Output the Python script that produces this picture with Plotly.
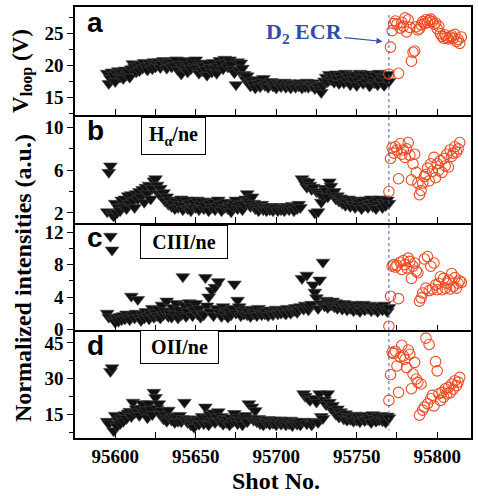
import plotly.graph_objects as go
from plotly.subplots import make_subplots

# ---------------- data ----------------
black_start = 95595
red_start = 95770

vloop_black = [
    18.8, 17.2, 18.0, 19.0, 18.5, 17.5, 18.8, 19.2, 18.2, 19.0,
    18.0, 19.3, 18.5, 19.0, 18.2, 19.5, 20.3, 19.8, 19.0, 20.0,
    19.2, 20.2, 19.6, 20.5, 19.8, 19.3, 20.4, 20.0, 19.5, 20.6,
    19.8, 20.3, 20.6, 19.7, 20.2, 20.8, 20.5, 19.6, 20.3, 20.7,
    19.8, 20.5, 20.0, 20.9, 19.3, 20.2, 18.7, 19.8, 20.8, 19.5,
    19.0, 20.2, 19.5, 20.6, 19.8, 20.9, 19.6, 18.8, 20.4, 19.2,
    20.0, 19.4, 18.5, 20.3, 19.7, 19.0, 20.5, 19.6, 18.8, 19.9,
    20.8, 20.3, 19.5, 21.0, 20.5, 19.8, 20.9, 20.2, 19.4, 18.9,
    17.0, 20.6, 19.2, 20.4, 19.6, 18.6, 17.8, 18.4, 17.3, 16.8,
    17.6, 17.1, 16.5, 17.8, 17.2, 16.7, 17.4, 18.0, 16.9, 17.3,
    16.6, 17.2, 17.5, 16.8, 17.1, 16.5, 17.3, 17.0, 16.7, 17.2,
    17.4, 16.6, 17.0, 17.3, 16.5, 16.9, 17.2, 16.6, 17.1, 16.8,
    17.3, 16.5, 17.0, 16.7, 17.4, 16.6, 17.1, 16.9, 17.3, 16.4,
    17.0, 16.7, 16.2, 15.8, 16.9, 17.6, 18.2, 17.5, 18.6, 17.8,
    18.2, 17.4, 18.7, 17.9, 17.2, 18.5, 18.0, 17.3, 18.8, 17.6,
    18.3, 17.0, 18.6, 17.8, 18.4, 16.9, 17.7, 18.8, 18.1, 17.2,
    18.6, 17.5, 18.2, 16.8, 18.7, 17.9, 17.3, 18.5, 17.0, 18.8,
    17.6, 18.3, 16.9, 18.1, 18.6, 17.5,
]
vloop_red = [
    18.7, 22.9, 25.5, 26.6, 27.0, 26.5, 18.8, 25.9, 26.8, 26.2,
    27.5, 25.3, 27.2, 26.0, 20.7, 22.1, 22.3, 26.1, 25.6, 25.8,
    26.4, 26.9, 26.6, 27.2, 26.8, 27.1, 27.3, 26.9, 26.5, 26.7,
    25.8, 26.2, 25.0, 24.6, 24.3, 24.8, 24.4, 24.2, 24.5, 24.7,
    24.3, 24.9, 23.8, 24.1, 23.5, 24.5,
]

halpha_black = [
    2.1, 5.8, 6.4, 1.9, 1.7, 2.9, 2.0, 2.5, 2.2, 3.2,
    2.6, 3.3, 2.4, 3.6, 2.9, 3.7, 3.1, 2.5, 3.8, 3.3,
    4.0, 3.5, 4.2, 3.0, 4.4, 3.8, 4.6, 3.3, 4.3, 5.0,
    5.2, 4.6, 3.8, 4.3, 3.5, 3.9, 3.1, 3.5, 2.8, 3.2,
    2.6, 2.9, 2.4, 3.1, 2.5, 2.8, 3.3, 2.3, 2.7, 3.2,
    2.4, 2.9, 2.2, 2.6, 3.0, 2.5, 3.2, 2.3, 2.8, 3.1,
    2.4, 2.7, 3.1, 2.2, 2.9, 2.5, 3.0, 2.3, 2.6, 3.2,
    2.8, 2.2, 2.9, 2.5, 3.0, 2.4, 2.7, 2.1, 2.6, 2.9,
    3.2, 2.4, 2.7, 2.9, 2.3, 2.8, 3.3, 3.8, 3.1, 2.6,
    3.5, 2.9, 2.4, 2.7, 2.2, 2.5, 2.8, 2.3, 2.6, 2.2,
    2.5, 2.3, 2.6, 2.2, 2.4, 2.5, 2.2, 2.6, 2.3, 2.5,
    2.2, 2.4, 2.6, 2.3, 2.5, 2.7, 2.2, 2.6, 2.4, 2.8,
    2.5, 5.2, 5.0, 4.7, 4.4, 4.9, 4.6, 4.2, 4.4, 2.0,
    4.0, 2.1, 3.8, 3.0, 3.6, 4.3, 4.1, 3.5, 4.9, 4.5,
    3.8, 4.0, 3.3, 3.6, 3.1, 3.4, 2.9, 3.2, 2.7, 3.0,
    3.3, 2.6, 3.1, 2.8, 2.5, 3.2, 2.7, 3.0, 2.4, 3.1,
    2.7, 3.2, 2.5, 2.9, 3.3, 2.6, 3.0, 2.4, 3.2, 2.8,
    3.3, 2.5, 3.0, 2.7, 3.2, 2.9,
]
halpha_red = [
    4.0, 7.1, 8.1, 7.6, 8.2, 7.9, 5.2, 8.5, 7.5, 7.9,
    7.2, 8.0, 8.6, 7.4, 5.1, 6.6, 7.5, 5.8, 4.8, 3.7,
    4.1, 4.8, 5.4, 5.6, 6.2, 5.0, 6.6, 5.9, 7.2, 5.3,
    6.6, 6.0, 6.9, 5.8, 7.1, 6.4, 7.5, 6.3, 7.9, 7.3,
    7.6, 8.2, 7.7, 8.0, 8.6,
]

ciii_black = [
    2.0, 1.5, 11.5, 9.8, 1.2, 0.9, 1.4, 1.0, 1.6, 1.2,
    1.7, 1.3, 1.9, 1.5, 1.2, 4.1, 1.8, 1.4, 2.0, 3.7,
    1.5, 1.1, 1.8, 1.4, 2.2, 1.6, 1.3, 1.9, 2.6, 1.5,
    2.1, 1.7, 2.5, 1.4, 3.0, 1.8, 2.3, 3.5, 1.6, 2.0,
    1.5, 2.7, 1.9, 3.2, 1.4, 2.4, 1.8, 6.5, 3.0, 1.6,
    2.2, 3.3, 2.8, 1.7, 2.4, 3.2, 1.9, 2.6, 1.5, 2.0,
    1.8, 6.4, 2.9, 4.0, 2.2, 4.8, 1.7, 5.2, 2.6, 5.9,
    2.1, 1.6, 2.8, 1.9, 2.4, 1.5, 2.2, 1.8, 2.6, 5.6,
    2.0, 3.6, 2.8, 1.7, 2.3, 1.9, 2.5, 1.8, 2.2, 1.6,
    2.4, 1.9, 2.1, 1.7, 2.6, 2.0, 1.8, 2.3, 1.9, 2.2,
    1.7, 2.4, 2.0, 1.8, 2.3, 2.5, 1.9, 2.2, 2.0, 2.4,
    2.1, 1.9, 2.6, 2.2, 2.0, 2.5, 2.3, 2.7, 2.1, 2.4,
    2.8, 6.3, 2.5, 3.0, 6.7, 2.4, 2.8, 3.1, 5.5, 4.6,
    3.9, 2.6, 6.1, 3.2, 8.3, 2.9, 3.6, 2.7, 3.4, 3.0,
    3.5, 2.8, 3.3, 2.6, 3.1, 2.9, 2.5, 3.2, 2.7, 2.4,
    2.9, 2.6, 3.1, 2.3, 2.8, 2.5, 3.0, 2.2, 2.7, 3.1,
    2.4, 2.8, 2.6, 3.0, 2.3, 2.7, 2.5, 2.9, 2.2, 2.6,
    2.8, 2.4, 3.0, 2.5, 2.2, 2.7,
]
ciii_red = [
    0.4, 4.1, 7.8, 8.0, 7.7, 7.9, 3.8, 8.3, 7.4, 8.5,
    8.0, 7.6, 8.8, 8.4, 6.3, 7.8, 8.2, 7.2, 7.0, 3.5,
    3.9, 4.5, 8.7, 5.1, 9.0, 4.8, 7.8, 5.0, 8.2, 5.5,
    4.9, 5.7, 6.5, 4.9, 6.3, 5.1, 5.7, 6.1, 5.0, 6.9,
    5.3, 6.4, 5.1, 5.7, 6.0, 5.8,
]

oii_black = [
    12.0, 11.0, 33.0, 34.5, 8.0, 14.5, 10.0, 12.5, 11.0, 13.5,
    12.0, 14.8, 13.2, 15.5, 16.2, 14.0, 20.0, 15.5, 17.2, 16.0,
    14.5, 17.5, 19.4, 15.8, 16.8, 13.5, 19.4, 17.0, 14.8, 24.2,
    22.0, 17.5, 19.4, 15.0, 16.5, 13.0, 14.8, 12.0, 16.7, 13.5,
    12.5, 14.2, 11.5, 13.8, 12.0, 14.5, 11.8, 13.2, 20.0, 12.5,
    11.5, 13.0, 10.5, 12.3, 9.5, 11.8, 13.0, 10.8, 12.5, 14.0,
    11.0, 18.0, 13.5, 10.5, 14.8, 12.2, 15.5, 11.5, 13.8, 16.0,
    12.0, 14.0, 10.8, 13.2, 11.5, 12.8, 10.5, 13.5, 11.8, 15.3,
    12.5, 11.0, 13.8, 12.2, 10.5, 13.0, 14.5, 11.8, 19.4, 13.5,
    18.0, 12.5, 16.5, 11.8, 13.2, 11.0, 12.5, 10.5, 12.0, 11.5,
    12.8, 10.8, 12.0, 11.2, 12.5, 10.5, 11.8, 12.6, 10.8, 11.5,
    12.2, 10.5, 11.8, 11.0, 12.5, 10.2, 11.5, 12.0, 10.8, 11.6,
    10.5, 12.0, 23.6, 22.5, 11.0, 21.5, 20.8, 10.5, 12.0, 21.5,
    20.1, 11.5, 23.6, 14.0, 13.2, 21.0, 19.0, 23.6, 20.0, 17.5,
    18.7, 16.5, 15.0, 17.2, 13.8, 16.0, 14.5, 13.0, 15.2, 12.5,
    14.0, 12.8, 13.5, 12.0, 14.6, 12.5, 13.8, 11.8, 14.2, 13.0,
    12.3, 14.5, 12.8, 13.6, 11.5, 14.8, 13.2, 12.0, 14.0, 12.6,
    14.5, 12.2, 13.8, 11.6, 14.2, 13.5,
]
oii_red = [
    20.8, 31.6, 41.0, 40.5, 41.5, 35.3, 24.2, 39.0, 44.0, 39.5,
    38.1, 34.6, 42.0, 40.2, 25.7, 31.9, 36.8, 29.8, 28.4, 14.6,
    27.7, 16.7, 18.0, 47.0, 19.4, 44.3, 21.5, 22.9, 18.5, 37.1,
    33.2, 23.6, 20.8, 24.2, 22.2, 25.7, 23.6, 26.3, 24.0, 27.7,
    25.5, 29.1, 27.0, 28.5, 30.5,
]

panel_letters = ["a", "b", "c", "d"]
box_labels = ["H<sub>α</sub>/ne", "CIII/ne", "OII/ne"]
ecr_shot = 95770

x_range = [95575, 95821]
y_ranges = [[12.3, 29.2], [1.1, 11.2], [-0.1, 13.2], [5.0, 50.3]]
y_major = [[15, 20, 25], [2, 6, 10], [0, 4, 8, 12], [15, 30, 45]]
y_minor = [2.5, 2, 2, 7.5]
x_ticks = [95600, 95650, 95700, 95750, 95800]

# ---------------- figure ----------------
W, H = 478, 496
ML, MR, MT, MB = 75, 5, 5, 58
PW, PH = W - ML - MR, H - MT - MB

fig = make_subplots(rows=4, cols=1, shared_xaxes=True, vertical_spacing=0)

series = [
    (vloop_black, vloop_red),
    (halpha_black, halpha_red),
    (ciii_black, ciii_red),
    (oii_black, oii_red),
]
for i, (blk, red) in enumerate(series):
    bx = [black_start + k for k in range(len(blk))]
    rx = [red_start + k for k in range(len(red))]
    fig.add_trace(go.Scatter(
        x=bx, y=blk, mode="markers",
        marker=dict(symbol="triangle-down", size=12, color="#111111",
                    line=dict(width=0.6, color="#444444")),
        showlegend=False, cliponaxis=True), row=i + 1, col=1)
    fig.add_trace(go.Scatter(
        x=rx, y=red, mode="markers",
        marker=dict(symbol="circle-open", size=10.5, color="#ee4a22",
                    line=dict(width=1.1)),
        showlegend=False, cliponaxis=True), row=i + 1, col=1)

tickfont = dict(family="Liberation Serif", size=19, color="black", weight="bold")
for i in range(4):
    r = i + 1
    fig.update_yaxes(
        range=y_ranges[i], tickvals=y_major[i], ticks="outside", ticklen=6,
        tickwidth=1.2, tickcolor="black",
        minor=dict(dtick=y_minor[i], ticks="outside", ticklen=4, tickcolor="black",
                   tickwidth=1.2),
        showline=True, linecolor="black", linewidth=1.5, mirror=True,
        showgrid=False, zeroline=False, tickfont=tickfont, row=r, col=1)
    fig.update_xaxes(
        range=x_range, tickvals=x_ticks, tickformat="d", ticks="inside", ticklen=6,
        tickwidth=1.2, tickcolor="black",
        minor=dict(dtick=25, tick0=95575, ticks="inside", ticklen=6,
                   tickcolor="black", tickwidth=1.2),
        showline=True, linecolor="black", linewidth=1.5,
        mirror=(True if i == 0 else False),
        showgrid=False, zeroline=False, tickfont=tickfont,
        showticklabels=(i == 3), row=r, col=1)

ann = []
# panel letters
letter_tops = [3, 111, 219, 327]
for i, t in enumerate(panel_letters):
    ann.append(dict(text=t, xref="paper", yref="paper",
                    x=(85 - ML) / PW, y=(438 - letter_tops[i]) / PH,
                    xanchor="left", yanchor="top", showarrow=False,
                    font=dict(family="Liberation Sans", size=28, color="black",
                              weight="bold")))
# boxed labels
box_geo = [(174, 135, 61, 34), (185, 241, 84, 30), (180, 347, 75, 30)]
for (cx, cy, bw, bh), t in zip(box_geo, box_labels):
    ann.append(dict(text=t, xref="paper", yref="paper",
                    x=(cx - ML) / PW, y=(438 - cy) / PH,
                    xanchor="center", yanchor="middle", showarrow=False,
                    width=bw, height=bh, borderpad=1,
                    bordercolor="black", borderwidth=1, bgcolor="white",
                    font=dict(family="Liberation Serif", size=20, color="black",
                              weight="bold")))
# D2 ECR arrow
ann.append(dict(text="D<sub>2</sub> ECR", xref="x", yref="y",
                x=95766, y=23.8, ax=-78, ay=-8, axref="pixel", ayref="pixel",
                showarrow=True, arrowhead=2, arrowsize=1, arrowwidth=1.2,
                arrowcolor="#2f4ea8", standoff=0,
                font=dict(family="Liberation Serif", size=22, color="#2f4ea8",
                          weight="bold")))
# axis titles
ann.append(dict(text="V<sub>loop</sub> (V)", xref="paper", yref="paper",
                x=(22 - ML) / PW, y=(438 - 69) / PH, textangle=-90,
                xanchor="center", yanchor="middle", showarrow=False,
                font=dict(family="Liberation Serif", size=23, color="black",
                          weight="bold")))
ann.append(dict(text="Normalized intensities (a.u.)", xref="paper", yref="paper",
                x=(22 - ML) / PW, y=(438 - 277) / PH, textangle=-90,
                xanchor="center", yanchor="middle", showarrow=False,
                font=dict(family="Liberation Serif", size=24, color="black",
                          weight="bold")))
ann.append(dict(text="Shot No.", xref="paper", yref="paper",
                x=(277 - ML) / PW, y=(438 - 481) / PH,
                xanchor="center", yanchor="middle", showarrow=False,
                font=dict(family="Liberation Serif", size=24, color="black",
                          weight="bold")))

shapes = [dict(type="line", xref="x", yref="paper", x0=ecr_shot, x1=ecr_shot,
               y0=(438 - 13) / PH, y1=(438 - 430) / PH,
               line=dict(color="#3b5cc4", width=1, dash="dot"))]

fig.update_layout(
    width=W, height=H, margin=dict(l=ML, r=MR, t=MT, b=MB, pad=0),
    paper_bgcolor="white", plot_bgcolor="white",
    annotations=ann, shapes=shapes, showlegend=False,
)
fig.write_html("out.html",
               config={"displayModeBar": False},
               post_script="document.body.style.margin='0';"
                           "document.documentElement.style.overflow='hidden';")
